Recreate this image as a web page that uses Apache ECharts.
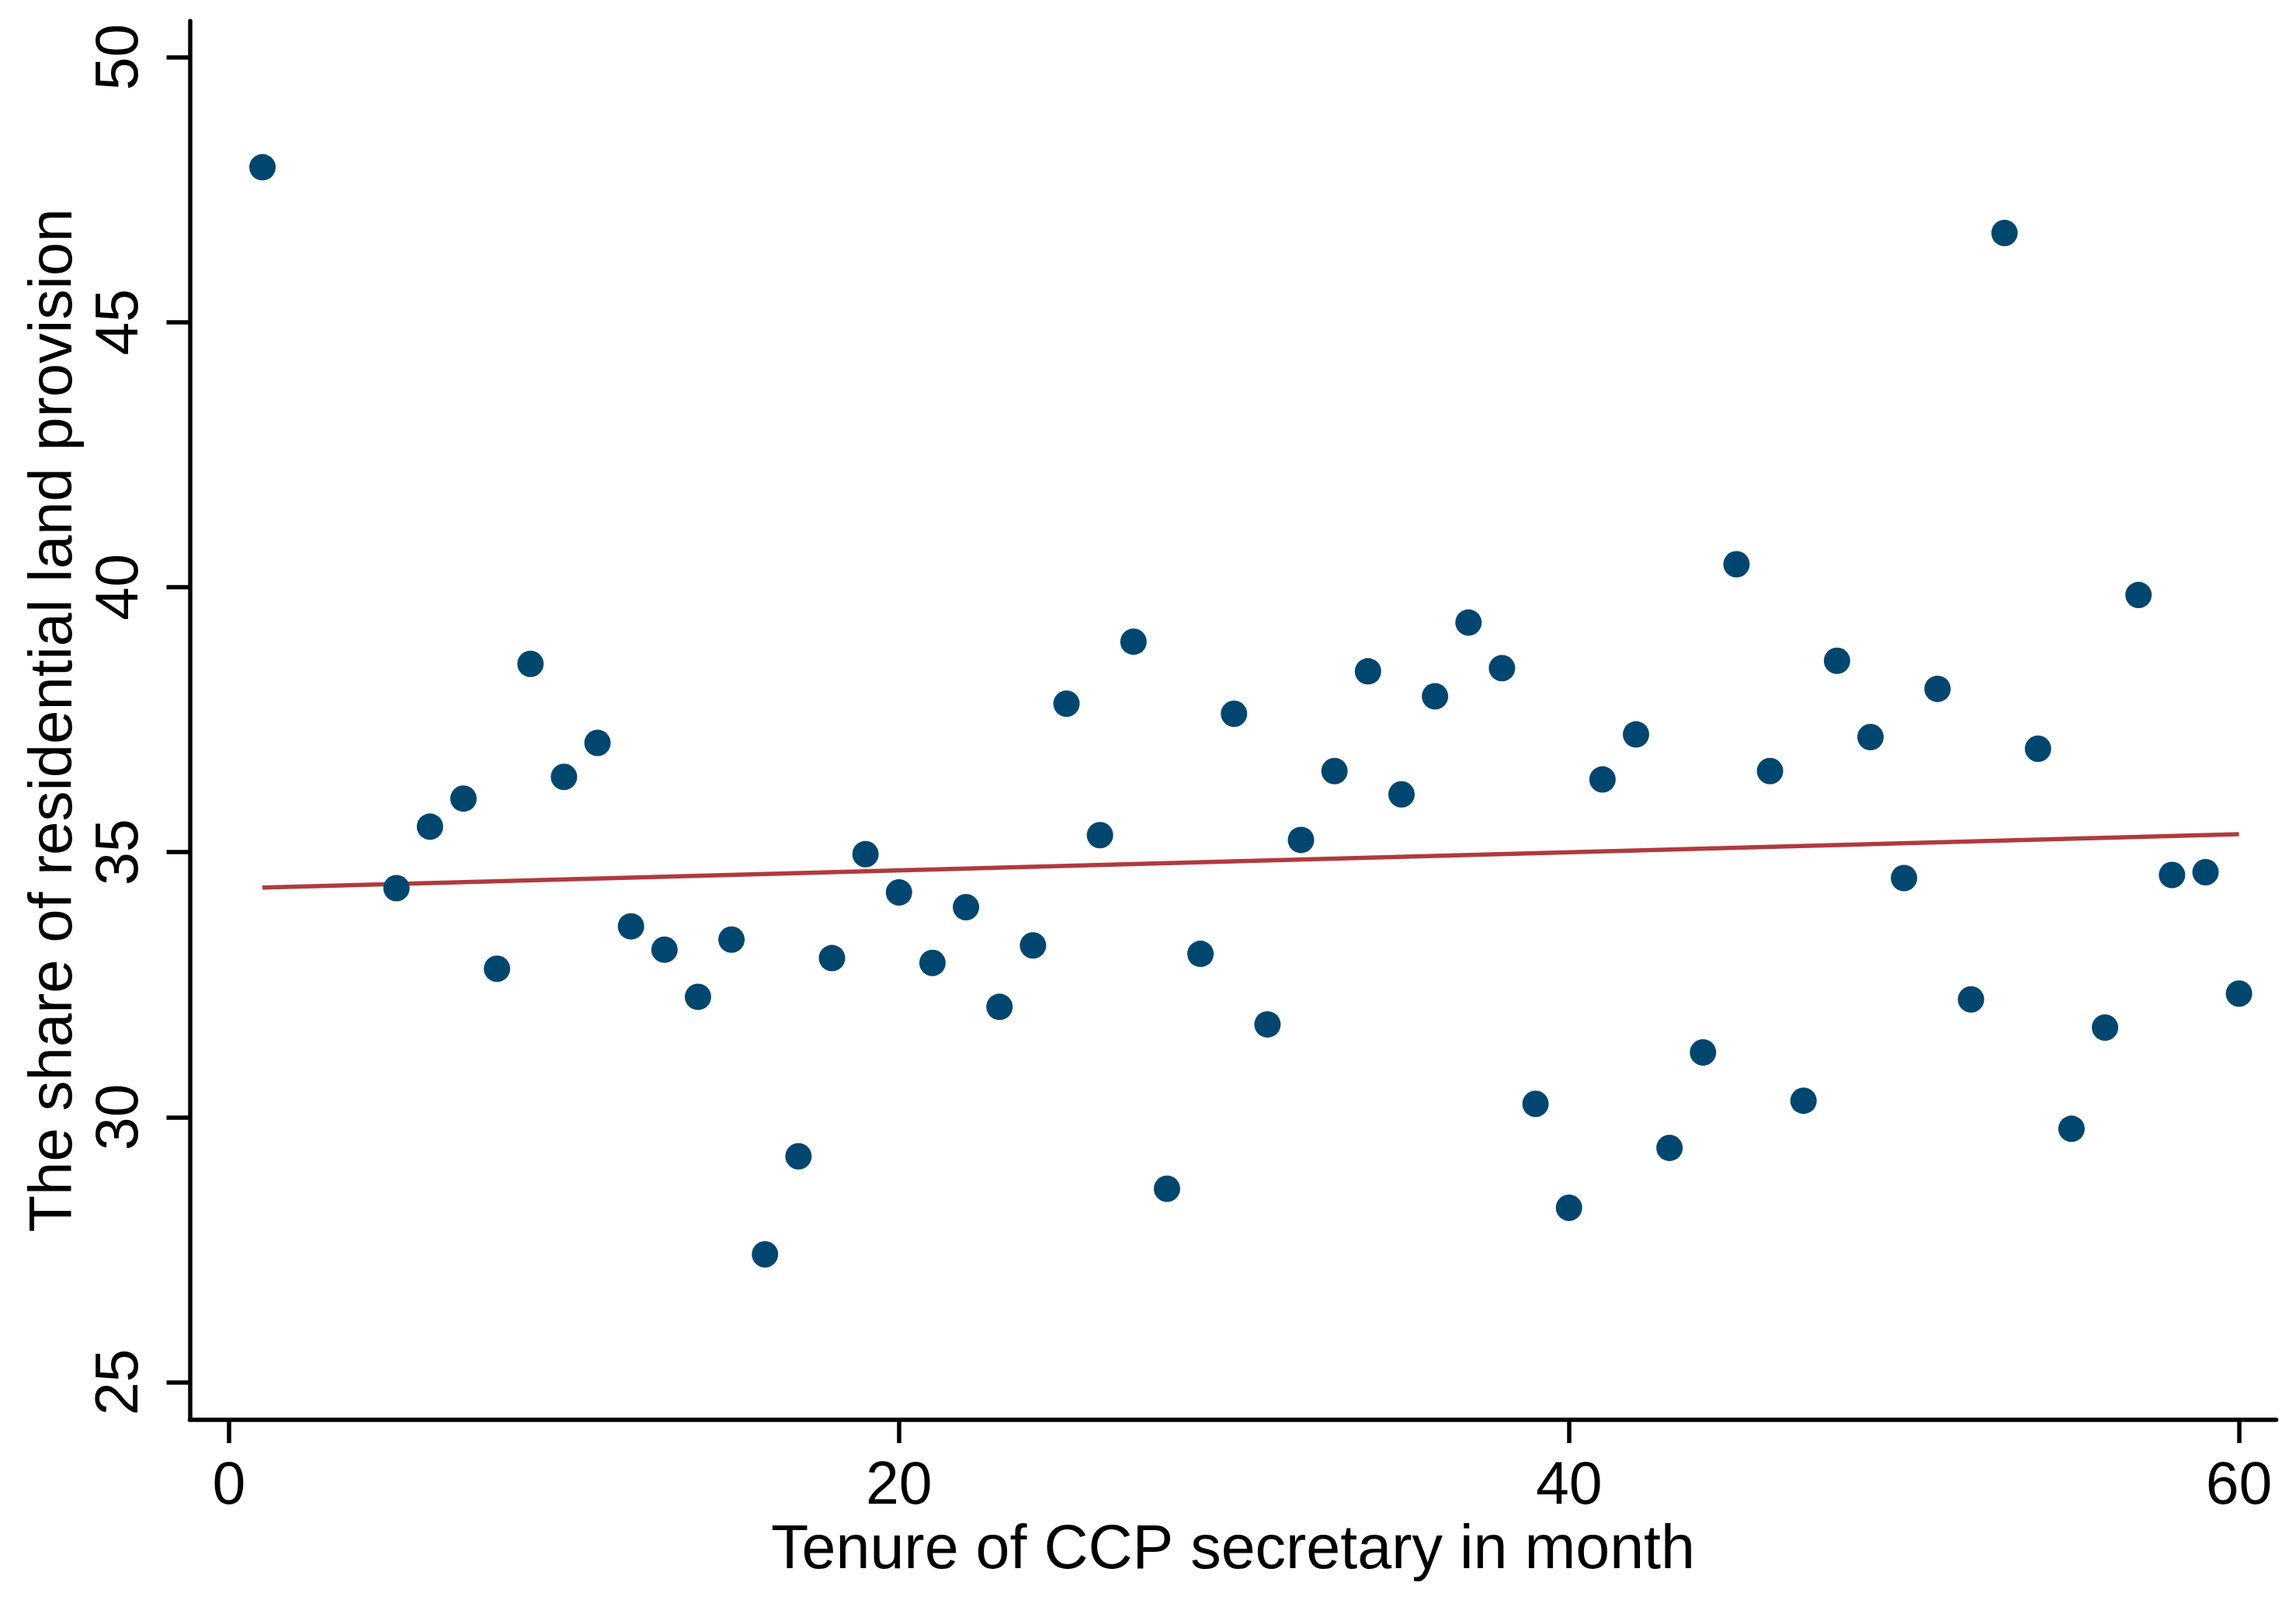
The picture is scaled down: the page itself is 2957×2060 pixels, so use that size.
<!DOCTYPE html>
<html>
<head>
<meta charset="utf-8">
<script src="https://cdn.jsdelivr.net/npm/echarts@6/dist/echarts.min.js"></script>
<style>
html,body{margin:0;padding:0;background:#fff;}
#chart{width:2957px;height:2060px;}
</style>
</head>
<body>
<div id="chart"></div>
<script>
// Tenure (months) and share of residential land provision
var months = [1,5,6,7,8,9,10,11,12,13,14,15,16,17,18,19,20,21,22,23,24,25,26,27,28,29,30,
  31,32,33,34,35,36,37,38,39,40,41,42,43,44,45,46,47,48,49,50,51,52,53,54,55,56,57,58,59,60];
var shares = [47.92,34.32,35.48,36.01,32.80,38.55,36.42,37.06,33.60,33.16,32.27,33.35,27.41,29.26,33.00,34.96,34.24,32.91,33.96,32.08,33.24,37.80,35.32,38.97,28.65,33.08,37.61,
  31.75,35.23,36.53,38.41,36.09,37.94,39.33,38.47,30.25,28.29,36.37,37.22,29.42,31.22,40.43,36.53,30.31,38.61,37.17,34.51,38.08,32.22,46.68,36.95,29.78,31.69,39.85,34.57,34.62,32.33];
// Linear fit endpoints
var fitX = [1, 60];
var fitY = [34.33, 35.34];
// Tick labels
var xTicks = [0, 20, 40, 60];
var yTicks = [25, 30, 35, 40, 45, 50];

var scatterData = months.map(function(m, i){ return [m, shares[i]]; });
var fitData = fitX.map(function(x, i){ return [x, fitY[i]]; });

var FONT = "'Liberation Sans', Arial, sans-serif";
var chart = echarts.init(document.getElementById('chart'), null, {renderer:'canvas'});
chart.setOption({
  backgroundColor: '#ffffff',
  animation: false,
  grid: {left: 244.5, right: 25.5, top: 27, bottom: 232, containLabel: false},
  xAxis: {
    type: 'value', min: -1.168, max: 61.11,
    name: 'Tenure of CCP secretary in month', nameLocation: 'middle', nameGap: 118,
    nameTextStyle: {fontFamily: FONT, fontSize: 79, color: '#000'},
    axisLine: {show: true, onZero: false, lineStyle: {color: '#000', width: 5.5}},
    axisTick: {show: true, length: 30, lineStyle: {color: '#000', width: 5.5}, customValues: xTicks},
    axisLabel: {show: true, fontFamily: FONT, fontSize: 77, color: '#000', margin: 48, customValues: xTicks},
    splitLine: {show: false}
  },
  yAxis: {
    type: 'value', min: 24.29, max: 50.68,
    name: 'The share of residential land provision', nameLocation: 'middle', nameGap: 134,
    nameTextStyle: {fontFamily: FONT, fontSize: 78, color: '#000'},
    axisLine: {show: true, onZero: false, lineStyle: {color: '#000', width: 5.5}},
    axisTick: {show: true, length: 30, lineStyle: {color: '#000', width: 5.5}, customValues: yTicks},
    axisLabel: {show: true, rotate: 90, fontFamily: FONT, fontSize: 77, color: '#000', margin: 50, customValues: yTicks},
    splitLine: {show: false}
  },
  series: [
    {
      type: 'line', data: fitData, symbol: 'none', z: 2,
      lineStyle: {color: '#B03A3E', width: 5.5}
    },
    {
      type: 'scatter', data: scatterData, symbol: 'circle', symbolSize: 34, z: 3,
      itemStyle: {color: '#01466E', opacity: 1}
    }
  ]
});
</script>
</body>
</html>
